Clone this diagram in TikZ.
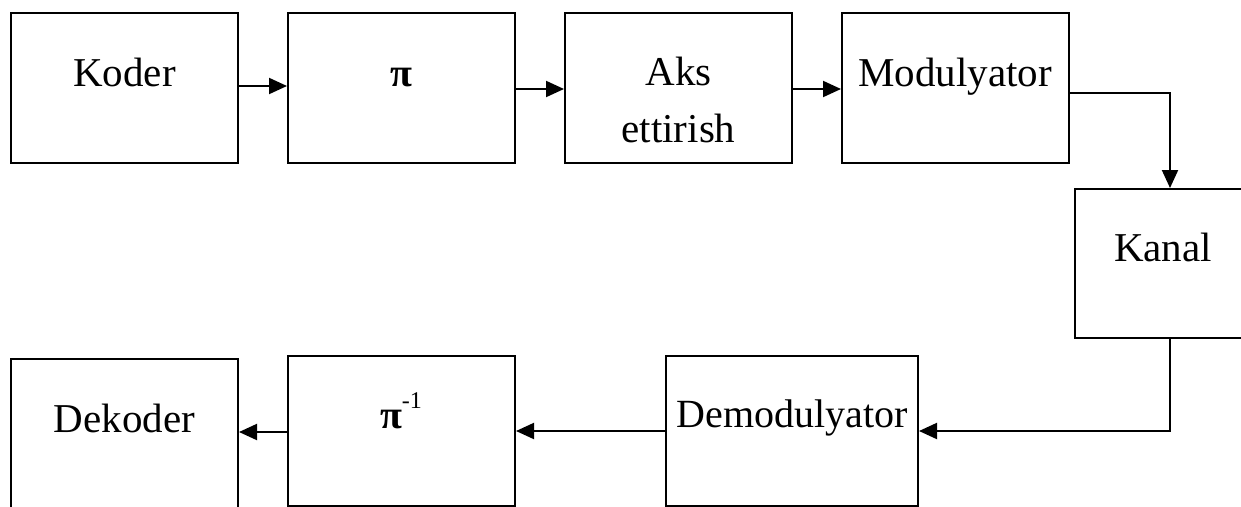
\documentclass[tikz,border=0pt]{standalone}
\usepackage{fontspec}
\setmainfont{Liberation Serif}
\usetikzlibrary{arrows.meta}
\begin{document}
\begin{tikzpicture}[x=1pt,y=-1pt,
  box/.style={draw=black,line width=2pt,rectangle,inner sep=0pt,fill=white},
  lbl/.style={anchor=base,inner sep=0pt,font=\fontsize{41}{49}\selectfont},
  pisym/.style={font=\fontsize{40}{44}\selectfont\bfseries},
  arr/.style={line width=2pt,-{Triangle[length=18pt,width=16pt]}}]
\clip (0,0) rectangle (1241,506);
\fill[white] (0,0) rectangle (1241,506);
% top row
\node[box,minimum width=227pt,minimum height=150pt] (koder) at (124.5,88) {};
\node[lbl] (tkoder) at (124.5,86) {Koder};
\node[box,minimum width=227pt,minimum height=150pt] (perm) at (401.5,88) {};
\node[lbl,pisym] (tperm) at (401.5,86) {π};
\node[box,minimum width=227pt,minimum height=150pt] (aks) at (678.5,88) {};
\node[lbl] (taks1) at (678.5,85) {Aks};
\node[lbl] (taks2) at (678.5,142) {ettirish};
\node[box,minimum width=227pt,minimum height=150pt] (mod) at (955.5,88) {};
\node[lbl] (tmod) at (955,86) {Modulyator};
% channel
\node[box,minimum width=190pt,minimum height=149pt] (kanal) at (1170,263.5) {};
\node[lbl] (tkanal) at (1163,261) {Kanal};
% bottom row
\node[box,minimum width=252pt,minimum height=150pt] (demod) at (792,431) {};
\node[lbl,font=\fontsize{40}{48}\selectfont] (tdemod) at (792,427) {Demodulyator};
\node[box,minimum width=227pt,minimum height=150pt] (invperm) at (401.5,431) {};
\node[lbl,pisym] (tinvperm) at (401,428) {π\raisebox{20pt}{\fontsize{24}{24}\mdseries\selectfont -1}};
\node[box,minimum width=227pt,minimum height=150pt] (dekoder) at (124.5,434) {};
\node[lbl] (tdekoder) at (124.5,432) {Dekoder};
% connectors
\draw[arr] ([yshift=2pt]koder.east) -- ([yshift=2pt]perm.west);
\draw[arr] ([yshift=-1pt]perm.east) -- ([yshift=-1pt]aks.west);
\draw[arr] ([yshift=-1pt]aks.east) -- ([yshift=-1pt]mod.west);
\draw[arr] ([yshift=-5pt]mod.east) -| (kanal.north);
\draw[arr] (kanal.south) |- (demod.east);
\draw[arr] (demod.west) -- (invperm.east);
\draw[arr] ([yshift=-1pt]invperm.west) -- ([yshift=2pt]dekoder.east);
\end{tikzpicture}
\end{document}
